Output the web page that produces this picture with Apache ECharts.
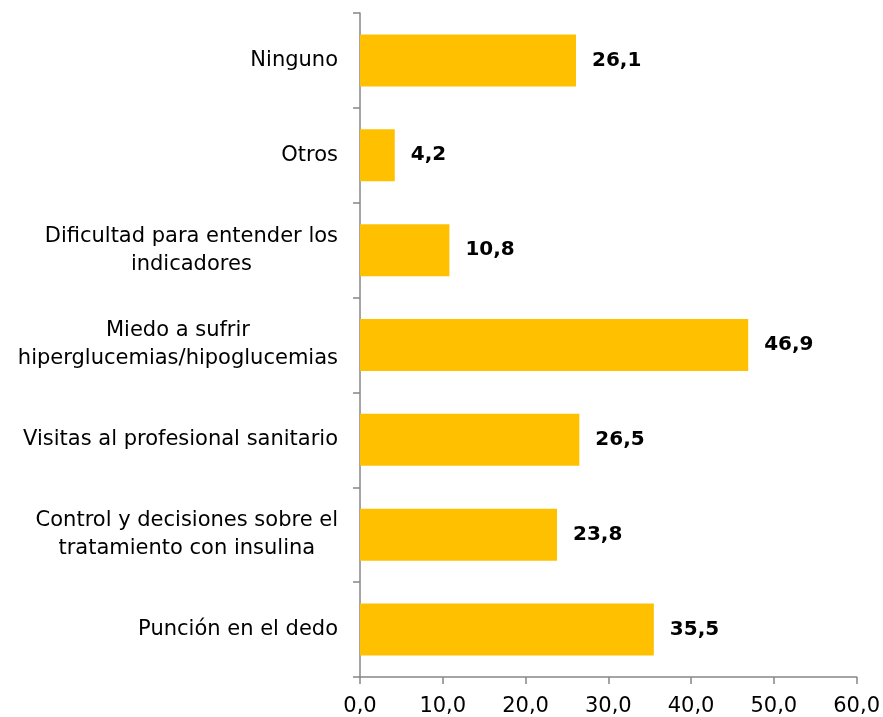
<!DOCTYPE html>
<html>
<head>
<meta charset="utf-8">
<script src="https://cdn.jsdelivr.net/npm/echarts@6/dist/echarts.min.js"></script>
<style>
  html, body { margin: 0; padding: 0; background: #fff; }
  #chart { width: 883px; height: 717px; }
</style>
</head>
<body>
<div id="chart"></div>
<script>
// categories listed bottom to top, as the axis draws them
const categories = [
  'Punción en el dedo',
  'Control y decisiones sobre el\ntratamiento con insulina',
  'Visitas al profesional sanitario',
  'Miedo a sufrir\nhiperglucemias/hipoglucemias',
  'Dificultad para entender los\nindicadores',
  'Otros',
  'Ninguno'
]
const values = [35.5, 23.8, 26.5, 46.9, 10.8, 4.2, 26.1]
const xTicks = [0, 10, 20, 30, 40, 50, 60]

const fmt = v => Number(v).toFixed(1).replace('.', ',')
const font = 'DejaVu Sans'

const chart = echarts.init(document.getElementById('chart'))
chart.setOption({
  animation: false,
  grid: {
    left: 360,
    right: 24,
    top: 13,
    bottom: 40,
    containLabel: false
  },
  xAxis: {
    type: 'value',
    min: xTicks[0],
    max: xTicks[xTicks.length - 1],
    interval: 10,
    splitLine: { show: false },
    axisLine: {
      show: true,
      lineStyle: { color: '#868686', width: 1.5 }
    },
    axisTick: {
      show: true,
      length: 7,
      lineStyle: { color: '#868686', width: 1.5 }
    },
    axisLabel: {
      fontFamily: font,
      fontSize: 21,
      color: '#000',
      margin: 19,
      formatter: fmt
    }
  },
  yAxis: {
    type: 'category',
    data: categories,
    axisLine: {
      show: true,
      lineStyle: { color: '#868686', width: 1.5 }
    },
    axisTick: {
      show: true,
      length: 7,
      lineStyle: { color: '#868686', width: 1.5 }
    },
    axisLabel: {
      margin: 22,
      formatter: function(v) {
        return v.split('\n').map(l => '{c|' + l + '}').join('\n')
      },
      rich: {
        c: {
          fontFamily: font,
          fontSize: 21,
          lineHeight: 28,
          color: '#000',
          align: 'center'
        }
      }
    }
  },
  series: [
    {
      type: 'bar',
      data: values,
      barWidth: 52,
      itemStyle: { color: '#FFC000' },
      label: {
        show: true,
        position: 'right',
        distance: 16,
        fontFamily: font,
        fontSize: 20,
        fontWeight: 'bold',
        color: '#000',
        formatter: p => fmt(p.value)
      }
    }
  ]
})
</script>
</body>
</html>
